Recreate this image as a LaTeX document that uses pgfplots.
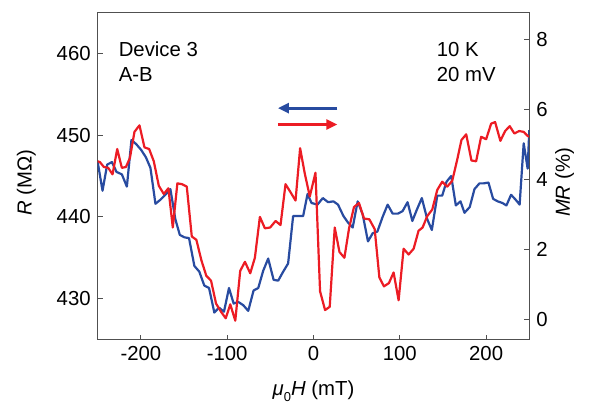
\documentclass[border=0pt]{standalone}
\usepackage{fontspec}
\setmainfont{Liberation Sans}
\usepackage{pgfplots}
\pgfplotsset{compat=1.18}
\usetikzlibrary{arrows.meta}
\definecolor{sweepblue}{RGB}{40,75,160}
\definecolor{sweepred}{RGB}{236,28,36}
\definecolor{axisgray}{RGB}{80,80,80}

\begin{document}
\begin{tikzpicture}
\path[use as bounding box] (-48.85bp,-33.25bp) rectangle (248.65bp,169.75bp);
\pgfplotsset{
  every axis/.append style={
    font=\fontsize{10.2}{12}\selectfont,
    scale only axis, width=215.8bp, height=163.5bp,
    at={(0,0)}, anchor=south west,
    xmin=-250, xmax=250,
    axis line style={axisgray, line width=0.6bp},
    major tick style={axisgray, line width=0.6bp},
    tick align=inside, major tick length=2.5bp,
    /pgf/number format/assume math mode=true,
    tick label style={font=\fontsize{10.2}{12}\selectfont},
  }
}
\begin{axis}[
  ymin=425, ymax=465,
  xtick={-200,-100,0,100,200}, xtick pos=bottom,
  ytick={430,440,450,460}, ytick pos=left,
  xlabel={\textit{μ}\raisebox{-0.6ex}{\fontsize{6.5}{7}\selectfont 0}\textit{H} (mT)},
  xlabel style={at={(axis description cs:0.5,-0.17)}, anchor=base},
  ylabel={\textit{R} (MΩ)},
  ylabel style={at={(axis description cs:-0.165,0.48)}, anchor=center},
  clip=true,
]
% sweep towards negative field
\addplot[sweepblue, line width=1.1bp, line join=round] coordinates {
(-250,446.7) (-244.4,443.2) (-239.0,446.4) (-233.5,446.7) (-228.2,445.5)
(-222.0,445.2) (-216.2,443.7) (-210.9,449.4) (-205.4,448.9) (-199.7,448.2)
(-194.2,447.3) (-188.9,446.0) (-183.1,441.6) (-177.3,442.1) (-171.6,442.7)
(-165.8,443.4) (-160.0,439.7) (-154.9,437.8) (-149.6,437.5) (-144.2,437.4)
(-138.0,434.0) (-132.3,433.3) (-126.5,431.6) (-121.0,431.3) (-114.9,428.3)
(-109.5,428.9) (-103.7,428.4) (-97.9,431.3) (-92.5,429.4) (-87.2,429.6)
(-81.4,429.2) (-75.6,428.5) (-69.4,431.0) (-64.0,431.3) (-58.3,433.4)
(-52.5,434.9) (-46.2,432.3) (-40.9,432.2) (-35.1,433.3) (-29.4,434.3)
(-23.6,440.1) (-17.8,440.1) (-12.0,440.1) (-6.9,442.8) (-2.3,441.7)
(4.6,441.5) (10.8,442.3) (16.9,441.8) (23.1,441.9) (28.4,441.5)
(34.7,440.1) (40.0,439.3) (45.4,438.7) (51.2,441.9) (57.0,440.3)
(63.1,437.0) (68.6,438.0) (74.0,438.2) (80.1,440.0) (85.9,441.5)
(91.7,440.4) (97.8,440.4) (103.2,440.7) (109.0,441.8) (114.5,439.5)
(120.2,441.0) (125.5,442.3) (131.8,439.7) (137.1,438.4) (143.4,442.6)
(149.1,442.6) (154.1,444.3) (159.5,445.0) (164.9,441.4) (170.3,441.9)
(174.9,440.5) (181.0,441.2) (186.5,443.4) (192.3,444.1) (197.2,444.1)
(202.7,444.2) (208.1,442.2) (213.4,441.9) (218.8,441.7) (223.5,441.4)
(228.9,442.7) (234.2,442.1) (238.8,441.5) (243.5,449.0) (248.1,445.9)
(250,450.6)
};
% sweep towards positive field
\addplot[sweepred, line width=1.1bp, line join=round] coordinates {
(-250,446.8) (-247.4,446.7) (-242.8,446.1) (-237.8,446.0) (-232.8,445.2)
(-227.4,448.3) (-222.0,446.0) (-217.3,446.1) (-212.7,447.2) (-207.4,450.4)
(-201.6,451.2) (-195.8,448.5) (-190.4,448.3) (-185.0,446.8) (-179.2,443.8)
(-173.4,442.8) (-168.1,443.5) (-163.0,438.7) (-157.7,444.1) (-152.3,444.0)
(-146.8,443.7) (-141.0,437.6) (-135.7,437.2) (-129.9,434.7) (-124.2,432.8)
(-118.7,432.2) (-112.9,429.4) (-107.2,428.4) (-101.7,427.6) (-96.4,429.3)
(-90.6,427.3) (-84.9,433.4) (-79.4,434.5) (-73.3,433.1) (-67.9,435.0)
(-62.1,440.0) (-56.3,438.6) (-50.2,438.7) (-43.9,439.5) (-38.2,439.0)
(-32.4,444.0) (-27.1,443.1) (-20.8,442.0) (-15.5,448.4) (-10.1,445.3)
(-4.3,442.5) (2.3,445.4) (7.6,430.9) (13.4,428.6) (18.8,429.0)
(24.6,438.7) (30.1,435.7) (35.8,435.0) (41.2,438.6) (46.9,441.2)
(52.7,441.7) (58.5,439.8) (64.7,439.7) (70.9,438.5) (76.3,432.6)
(81.6,431.5) (87.4,431.9) (92.8,433.2) (98.6,429.8) (104.4,436.1)
(110.2,435.4) (116.0,436.1) (121.7,438.3) (126.4,438.7) (131.8,440.1)
(137.6,440.9) (143.4,443.3) (149.1,444.3) (154.9,443.7) (160.7,444.4)
(166.5,447.0) (171.4,449.4) (176.9,450.1) (183.0,446.9) (188.4,446.8)
(194.2,449.8) (200.0,449.5) (205.8,451.4) (210.4,451.6) (216.5,449.3)
(222.0,450.5) (227.3,451.1) (232.7,450.2) (238.2,450.5) (243.5,450.4)
(248.1,449.9) (250,449.8)
};
% sweep direction arrows
\draw[sweepblue, line width=1.4bp, -{Triangle[length=5.5bp,width=5bp]}]
  (axis cs:27.6,453.3) -- (axis cs:-41.2,453.3);
\draw[sweepred, line width=1.4bp, -{Triangle[length=5.5bp,width=5bp]}]
  (axis cs:-41.2,451.3) -- (axis cs:27.6,451.3);
\node[anchor=base west, inner sep=0pt] at (axis cs:-226,459.65) {Device 3};
\node[anchor=base west, inner sep=0pt] at (axis cs:-226,456.6) {A-B};
\node[anchor=base west, inner sep=0pt] at (axis cs:142.5,459.65) {10 K};
\node[anchor=base west, inner sep=0pt] at (axis cs:142.5,456.5) {20 mV};
\end{axis}
\begin{axis}[
  ymin=-0.565, ymax=8.76,
  axis x line=none, axis y line*=right,
  ytick={0,2,4,6,8},
  ylabel={\textit{MR} (\%)},
  ylabel style={at={(axis description cs:1.082,0.48)}, anchor=center},
]
\addplot[draw=none] coordinates {(0,0)};
\end{axis}
\end{tikzpicture}
\end{document}
